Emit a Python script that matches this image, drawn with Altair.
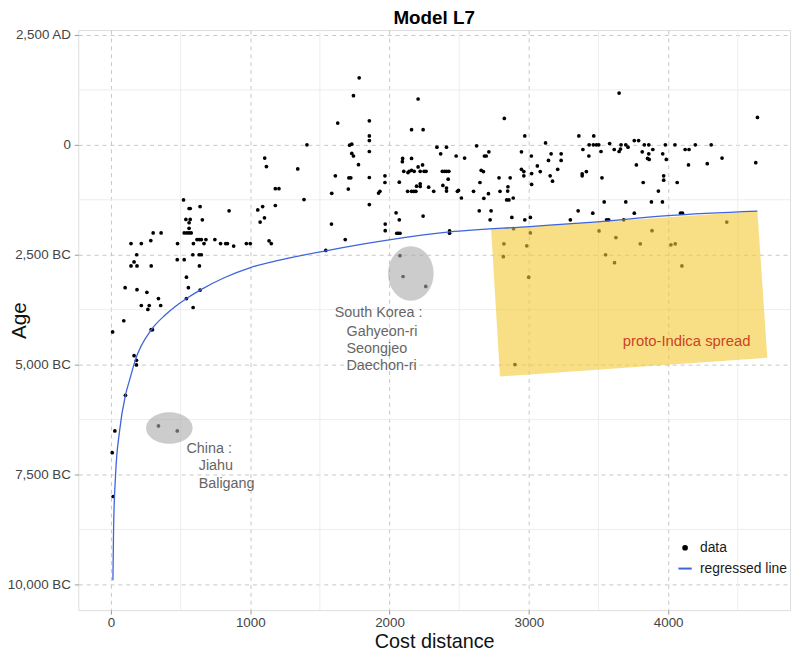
import altair as alt
import pandas as pd

# ---- scatter data (cost distance, age in years; negative = BC) ----
cost = [521, 561, 569, 640, 538, 569, 561, 656, 561, 526, 545, 561, 576, 303, 360, 286, 144, 218, 478, 592,
        618, 635, 649, 682, 668, 746, 787, 824, 836, 881, 972, 1000, 848, 1054, 1089, 1071, 1102, 1180, 1180, 1135,
        1151, 185, 166, 144, 187, 289, 476, 526, 588, 633, 649, 635, 542, 556, 640, 542, 590, 102, 187, 258,
        341, 218, 275, 265, 357, 92, 12, 289, 298, 166, 183, 183, 104, 28, 9, 16, 1782, 1741, 1628, 1855,
        1407, 1713, 1729, 1855, 1855, 1729, 1741, 1855, 1104, 1116, 1341, 1777, 1611, 1708, 1722, 1855, 1967, 1967, 1206, 1704,
        1585, 1921, 1931, 1386, 1855, 1583, 1969, 1969, 1682, 1542, 2047, 2070, 2052, 2063, 2075, 2070, 2094, 2092, 2158, 2241,
        2205, 2158, 2102, 2132, 2141, 2158, 2177, 2205, 2220, 2237, 2248, 2262, 2130, 2158, 2175, 2189, 2194, 2220, 2220, 2281,
        2317, 2340, 2367, 2379, 2395, 2383, 2241, 2824, 3648, 2971, 3120, 3359, 3466, 3433, 3463, 3485, 3502, 3580, 3662, 2409,
        2625, 2478, 2539, 2681, 2694, 2713, 2947, 3018, 3160, 3232, 3141, 3232, 3388, 3518, 3431, 2409, 2426, 2421, 2409, 2409,
        2487, 2495, 2516, 2603, 2649, 2658, 2674, 2677, 2710, 2786, 2866, 2850, 2848, 2793, 2841, 2857, 2888, 2644, 2729, 2722,
        2878, 2971, 3011, 2947, 2964, 2964, 3020, 3020, 3061, 3082, 3153, 3170, 3207, 3298, 3354, 3383, 3383, 3413, 3459, 3525,
        3541, 3558, 3573, 2431, 2431, 4641, 3613, 3648, 3658, 3696, 3712, 3757, 3788, 3814, 3829, 3861, 3852, 3864, 3861, 3890,
        3772, 3961, 3980, 4049, 3987, 4122, 4150, 4195, 4309, 4146, 4281, 4387, 4629, 3821, 3968, 3968, 4065, 3930, 3696, 3880,
        3959, 3757, 3681, 4089, 4103, 2890, 3011, 2821, 2985, 2817, 2999, 3504, 3625, 3551, 3615, 3800, 3884, 4020, 4051, 4099,
        4421, 2900, 341, 476, 2075, 2097, 2260]
age = [-1254, -1448, -1448, -1403, -1696, -1696, -1772, -1705, -1898, -2004, -2004, -2004, -2004, -2004, -2004, -2178, -2245, -2245, -2245, -2245,
       -2155, -2155, -2155, -2155, -2245, -2155, -2245, -2245, -2245, -2304, -2245, -2245, -1502, -1480, -1403, -1757, -1660, -998, -1380, -2184,
       -2245, -2500, -2664, -2754, -2754, -2754, -2612, -2612, -2500, -2500, -2500, -2754, -3011, -3250, -3304, -3497, -3700, -3250, -3295, -3355,
       -3497, -3655, -3655, -3745, -3655, -4002, -4256, -4204, -4204, -4797, -4903, -5006, -5698, -6508, -7004, -8001, 1525, 1119, 495, 547,
       0, -7, 16, 203, 97, -196, -254, -151, -300, -495, -547, -450, -705, -750, -750, -743, -705, -856, -998, -1007,
       -1103, -1097, -1058, -1245, -1358, -1802, -1802, -1952, -2155, -2403, -1547, -1705, -2011, -2011, -2011, -849, -309, -383, 345, 345,
       1043, -309, -601, -631, -601, -579, -601, -502, -601, -457, -601, -601, -1058, -1058, -1058, -1058, -939, -885, -946, -962,
       -1058, -52, -203, -601, -601, -923, -1621, 601, 1178, 203, 45, 203, 203, 0, 0, 0, 0, 29, 0, -52,
       -23, -254, -300, -254, -254, -158, -158, -254, -203, -203, -354, -354, -106, -151, -254, -601, -601, -781, -984, -1052,
       -1058, -1036, -1209, -1058, -856, -579, -608, -1216, -1110, -750, -750, -953, -1052, -1058, -1254, -1254, -1209, -1502, -1502, -1705,
       -1651, -1705, -1651, -556, -608, -705, -653, -901, -480, -608, -705, -826, -556, -1705, -1502, -660, -705, -608, -1554, -750,
       -1299, -1705, -1705, -1959, -2011, 624, -106, -151, -97, 0, -52, 97, 97, -158, 0, 0, -309, -331, -203, -106,
       -457, -203, 0, 0, -331, -106, -106, 0, 0, -457, -428, -300, -405, -856, -705, -804, -856, -1052, -1299, -1299,
       -1299, -1554, -1705, -1554, -1554, -1907, -2004, -2252, -2297, -2545, -3011, -1959, -2110, -2500, -2680, -2252, -1952, -2275, -2252, -2754,
       -1757, -4999, -6396, -6508, -2522, -2995, -3220]

# ---- regressed line ----
line_cost = [14, 19, 33, 62, 104, 135, 176, 289, 389, 483, 542, 640, 817, 1002, 1194, 1542, 1997, 2431, 3006, 3468, 4001, 4641]
line_age = [-9909, -8715, -7522, -6508, -5698, -5337, -4887, -4211, -3873, -3626, -3497, -3304, -3018, -2792, -2635, -2410,
            -2162, -1982, -1858, -1757, -1610, -1509]

# ---- annotations ----
poly_cost = [2729, 2793, 4641, 4712]
poly_top = [-1914, -1901, -1509, -4842]
poly_bottom = [-1914, -5270, -4858, -4842]

china_centre = (419, -6441)
korea_centre = (2153, -2928)

grey_labels = ["China :", "Jiahu", "Baligang", "South Korea :", "Gahyeon-ri", "Seongjeo", "Daechon-ri"]
grey_cost = [542, 630, 630, 1606, 1691, 1691, 1691]
grey_age = [-6914, -7312, -7718, -3828, -4250, -4639, -5038]

red_label = ["proto-Indica spread"]
red_cost = [3674]
red_age = [-4459]

x_breaks = [0, 1000, 2000, 3000, 4000]
x_minor = [500, 1500, 2500, 3500, 4500]
y_breaks = [2500, 0, -2500, -5000, -7500, -10000]
y_minor = [1250, -1250, -3750, -6250, -8750]

series_domain = ["data", "regressed line"]

FONT = "Liberation Sans"

pts = pd.DataFrame({"cost": cost, "age": age, "series": "data"})
fit = pd.DataFrame({"cost": line_cost, "age": line_age, "series": "regressed line"})
poly = pd.DataFrame({"cost": poly_cost, "top": poly_top, "bottom": poly_bottom})
grey_df = pd.DataFrame({"label": grey_labels, "cost": grey_cost, "age": grey_age})
red_df = pd.DataFrame({"label": red_label, "cost": red_cost, "age": red_age})
china_df = pd.DataFrame({"cost": [china_centre[0]], "age": [china_centre[1]]})
korea_df = pd.DataFrame({"cost": [korea_centre[0]], "age": [korea_centre[1]]})
xminor_df = pd.DataFrame({"v": x_minor})
yminor_df = pd.DataFrame({"v": y_minor})

xs = alt.Scale(domain=[-234.5, 4875], nice=False, zero=False)
ys = alt.Scale(domain=[-10586, 2612], nice=False, zero=False)

color_scale = alt.Scale(domain=series_domain, range=["#000000", "#3d63dd"])
shape_scale = alt.Scale(domain=series_domain, range=["circle", "stroke"])
size_scale = alt.Scale(domain=series_domain, range=[14, 180])

legend = alt.Legend(title=None, orient="none", legendX=605, legendY=516, padding=0,
                    rowPadding=6, labelOffset=7, labelFont=FONT, labelFontSize=14,
                    labelColor="#1a1a1a", symbolStrokeWidth=2)

x_axis = alt.Axis(values=x_breaks, format="d", grid=True, gridDash=[4, 4], gridColor="#c6c6c6",
                  domain=False, tickSize=4, tickColor="#9a9a9a", labelFont=FONT, labelFontSize=13.5,
                  labelColor="#444444", labelPadding=2, title="Cost distance", titleFont=FONT,
                  titleFontSize=20, titleFontWeight="normal", titleColor="#111111",
                  titleY=38, titleBaseline="alphabetic")
y_axis = alt.Axis(values=y_breaks, grid=True, gridDash=[4, 4], gridColor="#c6c6c6",
                  domain=False, tickSize=4, tickColor="#9a9a9a", labelFont=FONT, labelFontSize=13.5,
                  labelColor="#444444", labelPadding=4,
                  labelExpr="datum.value > 0 ? format(datum.value, ',') + ' AD' : (datum.value < 0 ? format(-datum.value, ',') + ' BC' : '0')",
                  title="Age", titleFont=FONT, titleFontSize=21, titleFontWeight="normal",
                  titleColor="#111111", titleX=-59, titleY=293, titleAngle=270,
                  titleAlign="center", titleBaseline="middle")

X = lambda f: alt.X(f, scale=xs, axis=x_axis)
Y = lambda f: alt.Y(f, scale=ys, axis=y_axis)

minor_x = alt.Chart(xminor_df).mark_rule(color="#ededed", strokeWidth=1).encode(x=X("v:Q"))
minor_y = alt.Chart(yminor_df).mark_rule(color="#ededed", strokeWidth=1).encode(y=Y("v:Q"))

points = alt.Chart(pts).mark_point(filled=True, opacity=1, strokeWidth=0).encode(
    x=X("cost:Q"),
    y=Y("age:Q"),
    color=alt.Color("series:N", scale=color_scale, legend=legend),
    shape=alt.Shape("series:N", scale=shape_scale, legend=legend),
    size=alt.Size("series:N", scale=size_scale, legend=legend),
)

area = alt.Chart(poly).mark_area(color="#F3CA35", opacity=0.6).encode(
    x=X("cost:Q"), y=Y("top:Q"), y2="bottom:Q")

china = alt.Chart(china_df).mark_point(
    shape="M -1 0 A 1 0.68 0 1 0 1 0 A 1 0.68 0 1 0 -1 0 Z", size=2209, filled=True,
    color="#aaaaaa", opacity=0.6, strokeWidth=0).encode(x=X("cost:Q"), y=Y("age:Q"))

korea = alt.Chart(korea_df).mark_point(
    shape="M -0.836 0 A 0.836 1 0 1 0 0.836 0 A 0.836 1 0 1 0 -0.836 0 Z", size=3025, filled=True,
    color="#aaaaaa", opacity=0.6, strokeWidth=0).encode(x=X("cost:Q"), y=Y("age:Q"))

line = alt.Chart(fit).mark_line(strokeWidth=1.3, interpolate="monotone").encode(
    x=X("cost:Q"), y=Y("age:Q"),
    color=alt.Color("series:N", scale=color_scale, legend=legend),
)

grey_text = alt.Chart(grey_df).mark_text(align="left", baseline="middle", font=FONT,
                                         fontSize=14.5, color="#666666").encode(
    x=X("cost:Q"), y=Y("age:Q"), text="label:N")

red_text = alt.Chart(red_df).mark_text(align="left", baseline="middle", font=FONT,
                                       fontSize=15, color="#cc4422").encode(
    x=X("cost:Q"), y=Y("age:Q"), text="label:N")

chart = alt.layer(minor_x, minor_y, points, area, china, korea, line, grey_text, red_text).properties(
    width=719, height=586,
    title=alt.TitleParams("Model L7", font=FONT, fontSize=19, fontWeight="bold", color="#000000",
                          anchor="middle", offset=0),
    autosize=alt.AutoSizeParams(type="none"),
    padding={"left": 71, "top": 19, "right": 2, "bottom": 38},
).configure_view(stroke="#d9d9d9", strokeWidth=1).configure(background="white")

chart.save("out.html", embed_options={"renderer": "svg", "actions": False})
